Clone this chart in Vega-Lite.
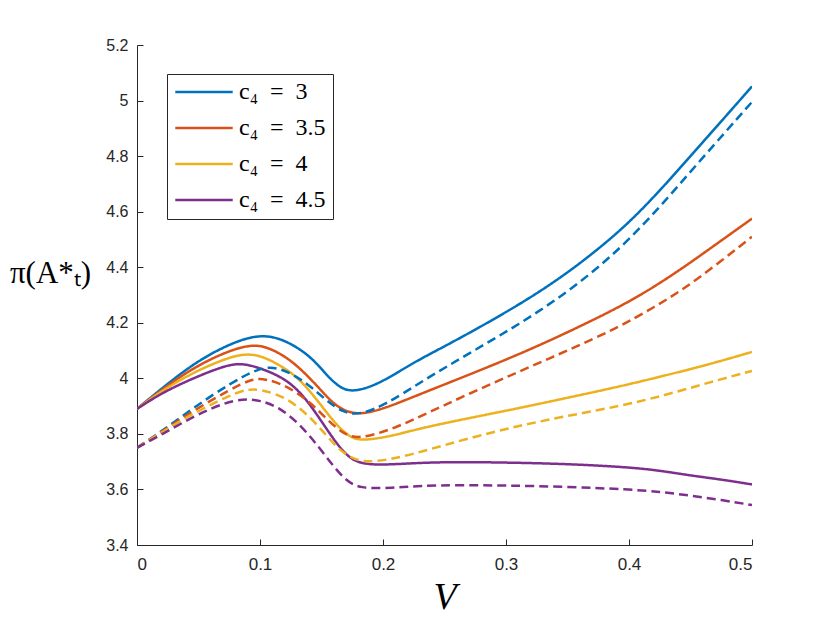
{
  "$schema": "https://vega.github.io/schema/vega-lite/v6.json",
  "width": 615,
  "height": 500,
  "autosize": "none",
  "padding": {"left": 137, "top": 45, "right": 78, "bottom": 78},
  "background": "white",
  "data": {
    "values": [
      {"V": 0, "pi": 3.89, "c": "c₄ = 3", "s": "full"},
      {"V": 0.021, "pi": 3.967, "c": "c₄ = 3", "s": "full"},
      {"V": 0.048, "pi": 4.06, "c": "c₄ = 3", "s": "full"},
      {"V": 0.076, "pi": 4.126, "c": "c₄ = 3", "s": "full"},
      {"V": 0.1, "pi": 4.16, "c": "c₄ = 3", "s": "full"},
      {"V": 0.12, "pi": 4.14, "c": "c₄ = 3", "s": "full"},
      {"V": 0.141, "pi": 4.081, "c": "c₄ = 3", "s": "full"},
      {"V": 0.154, "pi": 4.012, "c": "c₄ = 3", "s": "full"},
      {"V": 0.165, "pi": 3.965, "c": "c₄ = 3", "s": "full"},
      {"V": 0.176, "pi": 3.95, "c": "c₄ = 3", "s": "full"},
      {"V": 0.195, "pi": 3.977, "c": "c₄ = 3", "s": "full"},
      {"V": 0.214, "pi": 4.027, "c": "c₄ = 3", "s": "full"},
      {"V": 0.23, "pi": 4.069, "c": "c₄ = 3", "s": "full"},
      {"V": 0.25, "pi": 4.115, "c": "c₄ = 3", "s": "full"},
      {"V": 0.275, "pi": 4.175, "c": "c₄ = 3", "s": "full"},
      {"V": 0.3, "pi": 4.238, "c": "c₄ = 3", "s": "full"},
      {"V": 0.325, "pi": 4.305, "c": "c₄ = 3", "s": "full"},
      {"V": 0.35, "pi": 4.38, "c": "c₄ = 3", "s": "full"},
      {"V": 0.375, "pi": 4.465, "c": "c₄ = 3", "s": "full"},
      {"V": 0.4, "pi": 4.56, "c": "c₄ = 3", "s": "full"},
      {"V": 0.425, "pi": 4.675, "c": "c₄ = 3", "s": "full"},
      {"V": 0.45, "pi": 4.8, "c": "c₄ = 3", "s": "full"},
      {"V": 0.475, "pi": 4.925, "c": "c₄ = 3", "s": "full"},
      {"V": 0.5, "pi": 5.051, "c": "c₄ = 3", "s": "full"},

      {"V": 0, "pi": 3.89, "c": "c₄ = 3.5", "s": "full"},
      {"V": 0.021, "pi": 3.962, "c": "c₄ = 3.5", "s": "full"},
      {"V": 0.048, "pi": 4.045, "c": "c₄ = 3.5", "s": "full"},
      {"V": 0.076, "pi": 4.102, "c": "c₄ = 3.5", "s": "full"},
      {"V": 0.094, "pi": 4.122, "c": "c₄ = 3.5", "s": "full"},
      {"V": 0.107, "pi": 4.112, "c": "c₄ = 3.5", "s": "full"},
      {"V": 0.127, "pi": 4.063, "c": "c₄ = 3.5", "s": "full"},
      {"V": 0.149, "pi": 3.961, "c": "c₄ = 3.5", "s": "full"},
      {"V": 0.162, "pi": 3.896, "c": "c₄ = 3.5", "s": "full"},
      {"V": 0.179, "pi": 3.864, "c": "c₄ = 3.5", "s": "full"},
      {"V": 0.203, "pi": 3.894, "c": "c₄ = 3.5", "s": "full"},
      {"V": 0.23, "pi": 3.943, "c": "c₄ = 3.5", "s": "full"},
      {"V": 0.27, "pi": 4.013, "c": "c₄ = 3.5", "s": "full"},
      {"V": 0.311, "pi": 4.087, "c": "c₄ = 3.5", "s": "full"},
      {"V": 0.35, "pi": 4.165, "c": "c₄ = 3.5", "s": "full"},
      {"V": 0.393, "pi": 4.258, "c": "c₄ = 3.5", "s": "full"},
      {"V": 0.42, "pi": 4.328, "c": "c₄ = 3.5", "s": "full"},
      {"V": 0.444, "pi": 4.398, "c": "c₄ = 3.5", "s": "full"},
      {"V": 0.47, "pi": 4.48, "c": "c₄ = 3.5", "s": "full"},
      {"V": 0.5, "pi": 4.575, "c": "c₄ = 3.5", "s": "full"},

      {"V": 0, "pi": 3.89, "c": "c₄ = 4", "s": "full"},
      {"V": 0.021, "pi": 3.958, "c": "c₄ = 4", "s": "full"},
      {"V": 0.048, "pi": 4.027, "c": "c₄ = 4", "s": "full"},
      {"V": 0.076, "pi": 4.078, "c": "c₄ = 4", "s": "full"},
      {"V": 0.089, "pi": 4.088, "c": "c₄ = 4", "s": "full"},
      {"V": 0.102, "pi": 4.082, "c": "c₄ = 4", "s": "full"},
      {"V": 0.127, "pi": 4.021, "c": "c₄ = 4", "s": "full"},
      {"V": 0.143, "pi": 3.943, "c": "c₄ = 4", "s": "full"},
      {"V": 0.16, "pi": 3.842, "c": "c₄ = 4", "s": "full"},
      {"V": 0.173, "pi": 3.786, "c": "c₄ = 4", "s": "full"},
      {"V": 0.184, "pi": 3.775, "c": "c₄ = 4", "s": "full"},
      {"V": 0.208, "pi": 3.793, "c": "c₄ = 4", "s": "full"},
      {"V": 0.23, "pi": 3.82, "c": "c₄ = 4", "s": "full"},
      {"V": 0.27, "pi": 3.857, "c": "c₄ = 4", "s": "full"},
      {"V": 0.311, "pi": 3.893, "c": "c₄ = 4", "s": "full"},
      {"V": 0.35, "pi": 3.93, "c": "c₄ = 4", "s": "full"},
      {"V": 0.393, "pi": 3.971, "c": "c₄ = 4", "s": "full"},
      {"V": 0.431, "pi": 4.012, "c": "c₄ = 4", "s": "full"},
      {"V": 0.465, "pi": 4.05, "c": "c₄ = 4", "s": "full"},
      {"V": 0.5, "pi": 4.095, "c": "c₄ = 4", "s": "full"},

      {"V": 0, "pi": 3.89, "c": "c₄ = 4.5", "s": "full"},
      {"V": 0.021, "pi": 3.95, "c": "c₄ = 4.5", "s": "full"},
      {"V": 0.048, "pi": 4.005, "c": "c₄ = 4.5", "s": "full"},
      {"V": 0.07, "pi": 4.043, "c": "c₄ = 4.5", "s": "full"},
      {"V": 0.084, "pi": 4.056, "c": "c₄ = 4.5", "s": "full"},
      {"V": 0.1, "pi": 4.038, "c": "c₄ = 4.5", "s": "full"},
      {"V": 0.122, "pi": 3.997, "c": "c₄ = 4.5", "s": "full"},
      {"V": 0.138, "pi": 3.925, "c": "c₄ = 4.5", "s": "full"},
      {"V": 0.154, "pi": 3.818, "c": "c₄ = 4.5", "s": "full"},
      {"V": 0.168, "pi": 3.73, "c": "c₄ = 4.5", "s": "full"},
      {"V": 0.181, "pi": 3.688, "c": "c₄ = 4.5", "s": "full"},
      {"V": 0.208, "pi": 3.69, "c": "c₄ = 4.5", "s": "full"},
      {"V": 0.23, "pi": 3.696, "c": "c₄ = 4.5", "s": "full"},
      {"V": 0.26, "pi": 3.699, "c": "c₄ = 4.5", "s": "full"},
      {"V": 0.3, "pi": 3.697, "c": "c₄ = 4.5", "s": "full"},
      {"V": 0.35, "pi": 3.692, "c": "c₄ = 4.5", "s": "full"},
      {"V": 0.4, "pi": 3.68, "c": "c₄ = 4.5", "s": "full"},
      {"V": 0.425, "pi": 3.668, "c": "c₄ = 4.5", "s": "full"},
      {"V": 0.45, "pi": 3.65, "c": "c₄ = 4.5", "s": "full"},
      {"V": 0.475, "pi": 3.636, "c": "c₄ = 4.5", "s": "full"},
      {"V": 0.5, "pi": 3.618, "c": "c₄ = 4.5", "s": "full"},

      {"V": 0, "pi": 3.75, "c": "c₄ = 3", "s": "dash"},
      {"V": 0.021, "pi": 3.812, "c": "c₄ = 3", "s": "dash"},
      {"V": 0.048, "pi": 3.901, "c": "c₄ = 3", "s": "dash"},
      {"V": 0.076, "pi": 3.982, "c": "c₄ = 3", "s": "dash"},
      {"V": 0.1, "pi": 4.04, "c": "c₄ = 3", "s": "dash"},
      {"V": 0.116, "pi": 4.041, "c": "c₄ = 3", "s": "dash"},
      {"V": 0.138, "pi": 3.985, "c": "c₄ = 3", "s": "dash"},
      {"V": 0.154, "pi": 3.919, "c": "c₄ = 3", "s": "dash"},
      {"V": 0.168, "pi": 3.876, "c": "c₄ = 3", "s": "dash"},
      {"V": 0.181, "pi": 3.868, "c": "c₄ = 3", "s": "dash"},
      {"V": 0.203, "pi": 3.907, "c": "c₄ = 3", "s": "dash"},
      {"V": 0.23, "pi": 3.985, "c": "c₄ = 3", "s": "dash"},
      {"V": 0.27, "pi": 4.09, "c": "c₄ = 3", "s": "dash"},
      {"V": 0.311, "pi": 4.195, "c": "c₄ = 3", "s": "dash"},
      {"V": 0.35, "pi": 4.31, "c": "c₄ = 3", "s": "dash"},
      {"V": 0.385, "pi": 4.435, "c": "c₄ = 3", "s": "dash"},
      {"V": 0.417, "pi": 4.575, "c": "c₄ = 3", "s": "dash"},
      {"V": 0.458, "pi": 4.785, "c": "c₄ = 3", "s": "dash"},
      {"V": 0.5, "pi": 4.995, "c": "c₄ = 3", "s": "dash"},

      {"V": 0, "pi": 3.75, "c": "c₄ = 3.5", "s": "dash"},
      {"V": 0.021, "pi": 3.81, "c": "c₄ = 3.5", "s": "dash"},
      {"V": 0.048, "pi": 3.89, "c": "c₄ = 3.5", "s": "dash"},
      {"V": 0.076, "pi": 3.96, "c": "c₄ = 3.5", "s": "dash"},
      {"V": 0.094, "pi": 4.0, "c": "c₄ = 3.5", "s": "dash"},
      {"V": 0.105, "pi": 3.998, "c": "c₄ = 3.5", "s": "dash"},
      {"V": 0.122, "pi": 3.973, "c": "c₄ = 3.5", "s": "dash"},
      {"V": 0.141, "pi": 3.914, "c": "c₄ = 3.5", "s": "dash"},
      {"V": 0.154, "pi": 3.854, "c": "c₄ = 3.5", "s": "dash"},
      {"V": 0.168, "pi": 3.798, "c": "c₄ = 3.5", "s": "dash"},
      {"V": 0.181, "pi": 3.781, "c": "c₄ = 3.5", "s": "dash"},
      {"V": 0.208, "pi": 3.818, "c": "c₄ = 3.5", "s": "dash"},
      {"V": 0.23, "pi": 3.862, "c": "c₄ = 3.5", "s": "dash"},
      {"V": 0.27, "pi": 3.945, "c": "c₄ = 3.5", "s": "dash"},
      {"V": 0.311, "pi": 4.025, "c": "c₄ = 3.5", "s": "dash"},
      {"V": 0.35, "pi": 4.1, "c": "c₄ = 3.5", "s": "dash"},
      {"V": 0.39, "pi": 4.18, "c": "c₄ = 3.5", "s": "dash"},
      {"V": 0.42, "pi": 4.255, "c": "c₄ = 3.5", "s": "dash"},
      {"V": 0.444, "pi": 4.32, "c": "c₄ = 3.5", "s": "dash"},
      {"V": 0.47, "pi": 4.405, "c": "c₄ = 3.5", "s": "dash"},
      {"V": 0.5, "pi": 4.51, "c": "c₄ = 3.5", "s": "dash"},

      {"V": 0, "pi": 3.75, "c": "c₄ = 4", "s": "dash"},
      {"V": 0.021, "pi": 3.808, "c": "c₄ = 4", "s": "dash"},
      {"V": 0.048, "pi": 3.88, "c": "c₄ = 4", "s": "dash"},
      {"V": 0.076, "pi": 3.94, "c": "c₄ = 4", "s": "dash"},
      {"V": 0.089, "pi": 3.96, "c": "c₄ = 4", "s": "dash"},
      {"V": 0.1, "pi": 3.962, "c": "c₄ = 4", "s": "dash"},
      {"V": 0.122, "pi": 3.931, "c": "c₄ = 4", "s": "dash"},
      {"V": 0.141, "pi": 3.86, "c": "c₄ = 4", "s": "dash"},
      {"V": 0.154, "pi": 3.794, "c": "c₄ = 4", "s": "dash"},
      {"V": 0.168, "pi": 3.726, "c": "c₄ = 4", "s": "dash"},
      {"V": 0.184, "pi": 3.694, "c": "c₄ = 4", "s": "dash"},
      {"V": 0.208, "pi": 3.71, "c": "c₄ = 4", "s": "dash"},
      {"V": 0.23, "pi": 3.734, "c": "c₄ = 4", "s": "dash"},
      {"V": 0.27, "pi": 3.785, "c": "c₄ = 4", "s": "dash"},
      {"V": 0.311, "pi": 3.83, "c": "c₄ = 4", "s": "dash"},
      {"V": 0.35, "pi": 3.865, "c": "c₄ = 4", "s": "dash"},
      {"V": 0.393, "pi": 3.9, "c": "c₄ = 4", "s": "dash"},
      {"V": 0.43, "pi": 3.94, "c": "c₄ = 4", "s": "dash"},
      {"V": 0.465, "pi": 3.985, "c": "c₄ = 4", "s": "dash"},
      {"V": 0.5, "pi": 4.027, "c": "c₄ = 4", "s": "dash"},

      {"V": 0, "pi": 3.75, "c": "c₄ = 4.5", "s": "dash"},
      {"V": 0.021, "pi": 3.8, "c": "c₄ = 4.5", "s": "dash"},
      {"V": 0.048, "pi": 3.868, "c": "c₄ = 4.5", "s": "dash"},
      {"V": 0.07, "pi": 3.91, "c": "c₄ = 4.5", "s": "dash"},
      {"V": 0.086, "pi": 3.927, "c": "c₄ = 4.5", "s": "dash"},
      {"V": 0.1, "pi": 3.921, "c": "c₄ = 4.5", "s": "dash"},
      {"V": 0.116, "pi": 3.896, "c": "c₄ = 4.5", "s": "dash"},
      {"V": 0.135, "pi": 3.824, "c": "c₄ = 4.5", "s": "dash"},
      {"V": 0.151, "pi": 3.734, "c": "c₄ = 4.5", "s": "dash"},
      {"V": 0.168, "pi": 3.636, "c": "c₄ = 4.5", "s": "dash"},
      {"V": 0.181, "pi": 3.602, "c": "c₄ = 4.5", "s": "dash"},
      {"V": 0.208, "pi": 3.606, "c": "c₄ = 4.5", "s": "dash"},
      {"V": 0.23, "pi": 3.613, "c": "c₄ = 4.5", "s": "dash"},
      {"V": 0.26, "pi": 3.616, "c": "c₄ = 4.5", "s": "dash"},
      {"V": 0.3, "pi": 3.614, "c": "c₄ = 4.5", "s": "dash"},
      {"V": 0.35, "pi": 3.61, "c": "c₄ = 4.5", "s": "dash"},
      {"V": 0.4, "pi": 3.6, "c": "c₄ = 4.5", "s": "dash"},
      {"V": 0.425, "pi": 3.592, "c": "c₄ = 4.5", "s": "dash"},
      {"V": 0.45, "pi": 3.578, "c": "c₄ = 4.5", "s": "dash"},
      {"V": 0.475, "pi": 3.562, "c": "c₄ = 4.5", "s": "dash"},
      {"V": 0.5, "pi": 3.544, "c": "c₄ = 4.5", "s": "dash"}
    ]
  },
  "mark": {"type": "line", "strokeWidth": 2.5, "interpolate": "basis", "clip": true},
  "encoding": {
    "x": {
      "field": "V",
      "type": "quantitative",
      "scale": {"domain": [0, 0.5], "nice": false},
      "axis": {
        "values": [0, 0.1, 0.2, 0.3, 0.4, 0.5],
        "format": "~g",
        "grid": false,
        "tickSize": -6,
        "labelPadding": 17,
        "labelFontSize": 17,
        "title": "V",
        "titleFont": "Liberation Serif",
        "titleFontStyle": "italic",
        "titleFontWeight": "normal",
        "titleFontSize": 38,
        "titleBaseline": "middle",
        "titleY": 52
      }
    },
    "y": {
      "field": "pi",
      "type": "quantitative",
      "scale": {"domain": [3.4, 5.2], "nice": false, "zero": false},
      "axis": {
        "values": [3.4, 3.6, 3.8, 4, 4.2, 4.4, 4.6, 4.8, 5, 5.2],
        "format": "~g",
        "grid": false,
        "tickSize": -6,
        "labelPadding": 15,
        "labelFontSize": 16,
        "title": "π(A*ₜ)",
        "titleFont": "Liberation Serif",
        "titleFontWeight": "normal",
        "titleFontSize": 31,
        "titleAngle": 0,
        "titleAlign": "center",
        "titleBaseline": "middle",
        "titleX": -87,
        "titleY": 228
      }
    },
    "color": {
      "field": "c",
      "type": "nominal",
      "scale": {
        "domain": ["c₄ = 3", "c₄ = 3.5", "c₄ = 4", "c₄ = 4.5"],
        "range": ["#0072BD", "#D95319", "#EDB120", "#7E2F8E"]
      },
      "legend": {
        "title": null,
        "orient": "none",
        "legendX": 30,
        "legendY": 29,
        "symbolType": "stroke",
        "symbolSize": 3300,
        "symbolStrokeWidth": 2.5,
        "clipHeight": 22,
        "labelFont": "Liberation Serif",
        "labelFontSize": 24,
        "labelColor": "black",
        "labelOffset": 5,
        "padding": 7,
        "rowPadding": 12,
        "fillColor": "white",
        "strokeColor": "#262626",
        "labelExpr": "replace(datum.label, ' = ', '\u2002=\u2002')"
      }
    },
    "strokeDash": {
      "field": "s",
      "type": "nominal",
      "scale": {"domain": ["full", "dash"], "range": [[1, 0], [9, 5]]},
      "legend": null
    }
  },
  "config": {
    "view": {"stroke": null},
    "axis": {
      "domainColor": "#262626",
      "tickColor": "#262626",
      "labelColor": "#262626",
      "titleColor": "black",
      "labelFont": "Liberation Sans",
      "domainWidth": 1,
      "tickWidth": 1
    }
  }
}
